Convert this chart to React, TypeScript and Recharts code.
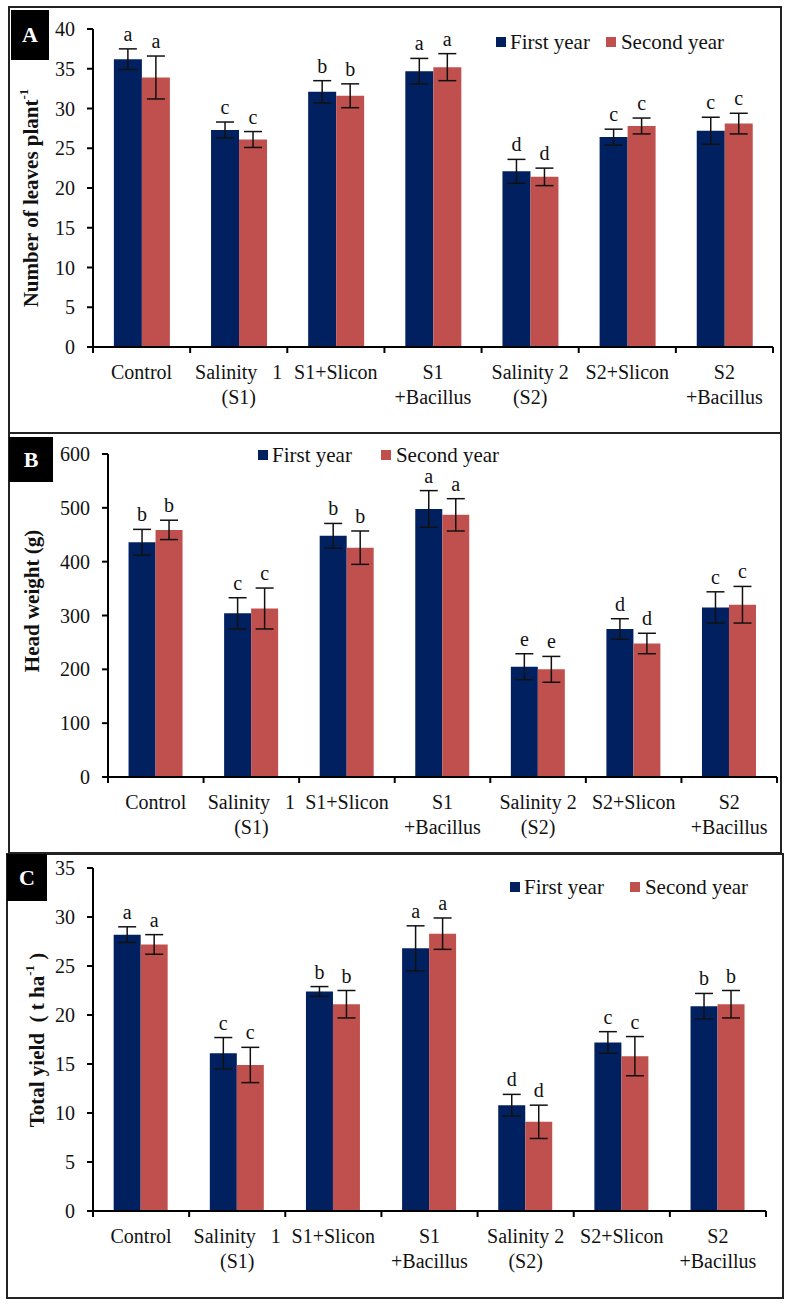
import React from 'react'
import { BarChart, Bar, XAxis, YAxis, ErrorBar, LabelList, Legend } from 'recharts'

const categories = ['Control', 'Salinity   1\n(S1)', 'S1+Slicon', 'S1\n+Bacillus', 'Salinity 2\n(S2)', 'S2+Slicon', 'S2\n+Bacillus']

// A - number of leaves
const leavesFirst = [36.2, 27.3, 32.1, 34.7, 22.1, 26.4, 27.2]
const leavesSecond = [33.9, 26.1, 31.6, 35.2, 21.4, 27.8, 28.1]
const leavesFirstErr = [1.3, 1.0, 1.4, 1.6, 1.5, 1.0, 1.7]
const leavesSecondErr = [2.7, 1.0, 1.5, 1.7, 1.1, 1.0, 1.3]
const leavesLetters = ['a', 'c', 'b', 'a', 'd', 'c', 'c']
const leavesTicks = [0, 5, 10, 15, 20, 25, 30, 35, 40]

// B - head weight
const headFirst = [436, 304, 448, 498, 205, 275, 315]
const headSecond = [459, 313, 426, 487, 200, 248, 320]
const headFirstErr = [24, 29, 23, 34, 24, 19, 29]
const headSecondErr = [18, 38, 31, 30, 24, 19, 34]
const headLetters = ['b', 'c', 'b', 'a', 'e', 'd', 'c']
const headTicks = [0, 100, 200, 300, 400, 500, 600]

// C - total yield
const yieldFirst = [28.2, 16.1, 22.4, 26.8, 10.8, 17.2, 20.9]
const yieldSecond = [27.2, 14.9, 21.1, 28.3, 9.1, 15.8, 21.1]
const yieldFirstErr = [0.8, 1.6, 0.5, 2.3, 1.1, 1.1, 1.3]
const yieldSecondErr = [1.0, 1.8, 1.4, 1.6, 1.7, 2.0, 1.4]
const yieldLetters = ['a', 'c', 'b', 'a', 'd', 'c', 'b']
const yieldTicks = [0, 5, 10, 15, 20, 25, 30, 35]

const BLUE = '#002060'
const RED = '#C0504D'
const FONT = "'Liberation Serif', 'Times New Roman', serif"

const makeRows = (v1: number[], v2: number[], e1: number[], e2: number[], letters: string[]) =>
  categories.map((name, i) => ({ name, v1: v1[i], v2: v2[i], e1: e1[i], e2: e2[i], l1: letters[i], l2: letters[i] }))

// category label plus tick marks on the category boundaries
const CatTick = (props: any) => {
  const { x, y, payload, index, visibleTicksCount } = props
  const half = payload.offset ?? 0
  const lines = String(payload.value).split('\n')
  return (
    <g>
      <line x1={x - half} x2={x - half} y1={y} y2={y + 6} stroke="#000" strokeWidth={2} />
      {index === visibleTicksCount - 1 && (
        <line x1={x + half} x2={x + half} y1={y} y2={y + 6} stroke="#000" strokeWidth={2} />
      )}
      <text x={x} y={y + 32} textAnchor="middle" fontSize={20} fontFamily={FONT} fill="#111" style={{ whiteSpace: 'pre' }}>
        {lines.map((l, i) => (
          <tspan key={i} x={x} dy={i === 0 ? 0 : 25}>{l}</tspan>
        ))}
      </text>
    </g>
  )
}

const letterContent = (vals: number[], errs: number[]) => (props: any) => {
  const vb = props.viewBox || props
  const { x, y, width, height } = vb
  const i = props.index
  if (i == null || !height) return null
  const errPx = (errs[i] * height) / vals[i]
  return (
    <text x={x + width / 2} y={y - errPx - 8} textAnchor="middle" fontSize={20} fontFamily={FONT} fill="#111">
      {props.value}
    </text>
  )
}

const LegendBox = ({ gap }: { gap: number }) => (
  <div style={{ display: 'flex', alignItems: 'center', fontFamily: FONT, fontSize: 21, color: '#111', height: 24, whiteSpace: 'nowrap' }}>
    <span style={{ width: 10, height: 10, background: BLUE, display: 'inline-block', marginRight: 4 }} />
    <span style={{ marginRight: gap }}>First year</span>
    <span style={{ width: 10, height: 10, background: RED, display: 'inline-block', marginRight: 5 }} />
    <span>Second year</span>
  </div>
)

type PanelProps = {
  top: number
  height: number
  yWidth: number
  right: number
  plotTop: number
  xHeight: number
  ticks: number[]
  rows: any[]
  first: number[]
  second: number[]
  firstErr: number[]
  secondErr: number[]
  legendX: number
  legendY: number
  legendGap: number
  yLabel: React.ReactNode
  yLabelX: number
  yLabelY: number
}

const Panel = (p: PanelProps) => (
  <div style={{ position: 'absolute', left: 0, top: p.top }}>
    <BarChart
      width={790}
      height={p.height}
      data={p.rows}
      margin={{ top: p.plotTop, right: p.right, left: 0, bottom: 0 }}
      barCategoryGap="21.5%"
      barGap={0}
    >
      <XAxis
        dataKey="name"
        height={p.xHeight}
        interval={0}
        tickLine={false}
        tickSize={0}
        tickMargin={0}
        axisLine={{ stroke: '#000', strokeWidth: 2 }}
        tick={<CatTick />}
      />
      <YAxis
        width={p.yWidth}
        domain={[p.ticks[0], p.ticks[p.ticks.length - 1]]}
        ticks={p.ticks}
        interval={0}
        tickSize={6}
        tickMargin={12}
        axisLine={{ stroke: '#000', strokeWidth: 2 }}
        tickLine={{ stroke: '#000', strokeWidth: 2 }}
        tick={{ fill: '#111', fontSize: 20, fontFamily: FONT }}
        label={{
          content: () => (
            <text
              x={p.yLabelX}
              y={p.yLabelY}
              transform={`rotate(-90 ${p.yLabelX} ${p.yLabelY})`}
              textAnchor="middle"
              dominantBaseline="central"
              fontSize={21}
              fontWeight="bold"
              fontFamily={FONT}
              fill="#111"
              style={{ whiteSpace: 'pre' }}
            >
              {p.yLabel}
            </text>
          ),
        }}
      />
      <Legend
        layout="horizontal"
        verticalAlign="middle"
        align="center"
        wrapperStyle={{ top: p.legendY - 12, left: p.legendX, width: 'auto' }}
        content={() => <LegendBox gap={p.legendGap} />}
      />
      <Bar dataKey="v1" name="First year" fill={BLUE} isAnimationActive={false}>
        <ErrorBar dataKey="e1" width={9} stroke="#111" strokeWidth={1.5} direction="y" />
        <LabelList dataKey="l1" content={letterContent(p.first, p.firstErr)} />
      </Bar>
      <Bar dataKey="v2" name="Second year" fill={RED} isAnimationActive={false}>
        <ErrorBar dataKey="e2" width={9} stroke="#111" strokeWidth={1.5} direction="y" />
        <LabelList dataKey="l2" content={letterContent(p.second, p.secondErr)} />
      </Bar>
    </BarChart>
  </div>
)

const Tag = ({ x, y, w, h, t }: { x: number; y: number; w: number; h: number; t: string }) => (
  <div
    style={{
      position: 'absolute', left: x, top: y, width: w, height: h, background: '#000', color: '#fff',
      fontFamily: FONT, fontWeight: 'bold', fontSize: 22, display: 'flex', alignItems: 'center', justifyContent: 'center',
    }}
  >
    {t}
  </div>
)

const Frame = ({ x, y, w, h }: { x: number; y: number; w: number; h: number }) => (
  <div style={{ position: 'absolute', left: x, top: y, width: w, height: h, border: '2px solid #222', boxSizing: 'border-box' }} />
)

export default function App() {
  return (
    <div style={{ position: 'absolute', left: 0, top: 0, width: 790, height: 1304, background: '#fff', overflow: 'hidden' }}>
      <Frame x={8} y={6} w={774} h={428} />
      <Frame x={8} y={432} w={774} h={422} />
      <Frame x={6} y={853} w={778} h={446} />

      <Panel
        top={0} height={433} yWidth={93} right={17} plotTop={29} xHeight={86}
        ticks={leavesTicks}
        rows={makeRows(leavesFirst, leavesSecond, leavesFirstErr, leavesSecondErr, leavesLetters)}
        first={leavesFirst} second={leavesSecond} firstErr={leavesFirstErr} secondErr={leavesSecondErr}
        legendX={496} legendY={42} legendGap={16}
        yLabel={<>Number of leaves plant<tspan dy={-8} fontSize={13}>-1</tspan></>}
        yLabelX={31} yLabelY={198}
      />
      <Panel
        top={433} height={420} yWidth={108} right={13} plotTop={21} xHeight={76}
        ticks={headTicks}
        rows={makeRows(headFirst, headSecond, headFirstErr, headSecondErr, headLetters)}
        first={headFirst} second={headSecond} firstErr={headFirstErr} secondErr={headSecondErr}
        legendX={258} legendY={22} legendGap={29}
        yLabel="Head weight (g)"
        yLabelX={32} yLabelY={168}
      />
      <Panel
        top={854} height={450} yWidth={93} right={24} plotTop={14} xHeight={93}
        ticks={yieldTicks}
        rows={makeRows(yieldFirst, yieldSecond, yieldFirstErr, yieldSecondErr, yieldLetters)}
        first={yieldFirst} second={yieldSecond} firstErr={yieldFirstErr} secondErr={yieldSecondErr}
        legendX={510} legendY={33} legendGap={26}
        yLabel={<>Total yield  ( t ha<tspan dy={-8} fontSize={13}>-1</tspan><tspan dy={8}> )</tspan></>}
        yLabelX={37} yLabelY={186}
      />

      <Tag x={11} y={10} w={38} h={50} t="A" />
      <Tag x={9} y={437} w={44} h={45} t="B" />
      <Tag x={7} y={854} w={40} h={47} t="C" />
    </div>
  )
}
